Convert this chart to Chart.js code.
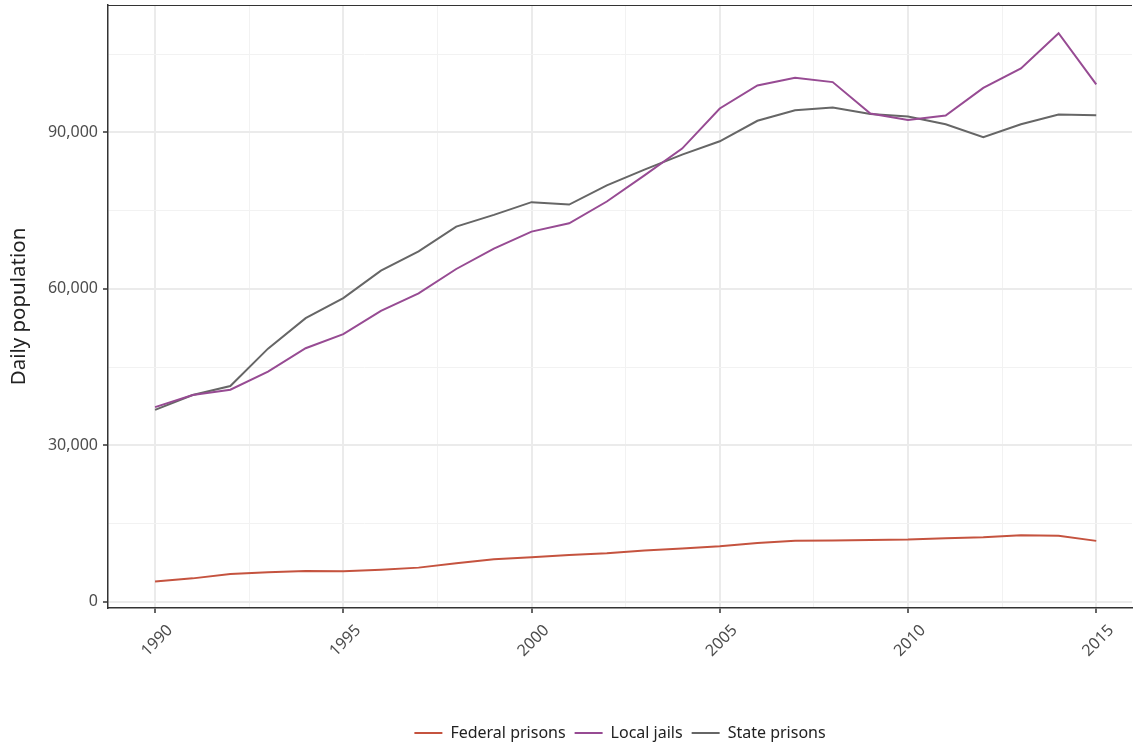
<!DOCTYPE html>
<html>
<head>
<meta charset="utf-8">
<script src="https://cdn.jsdelivr.net/npm/chart.js@4"></script>
<style>
	html, body { margin: 0; padding: 0; background: #fff; }
	#wrap { width: 1133px; height: 744px; }
</style>
</head>
<body>
<div id="wrap"><canvas id="chart"></canvas></div>
<script>
const years = [
	1990, 1991, 1992, 1993, 1994, 1995, 1996, 1997, 1998, 1999, 2000, 2001, 2002,
	2003, 2004, 2005, 2006, 2007, 2008, 2009, 2010, 2011, 2012, 2013, 2014, 2015,
];

const federalPrisons = [
	3_900, 4_480, 5_320, 5_640, 5_900, 5_850, 6_150, 6_540, 7_370, 8_140, 8_520,
	8_970, 9_290, 9_810, 10_190, 10_640, 11_280, 11_670, 11_730, 11_860, 11_920,
	12_180, 12_370, 12_760, 12_630, 11_670,
];

const localJails = [
	37_310, 39_620, 40_640, 44_100, 48_600, 51_290, 55_770, 59_100, 63_790,
	67_690, 70_960, 72_560, 76_730, 81_730, 86_870, 94_560, 98_980, 100_440,
	99_620, 93_600, 92_370, 93_210, 98_520, 102_250, 108_980, 99_170,
];

const statePrisons = [
	36_790, 39_620, 41_350, 48_520, 54_370, 58_210, 63_460, 67_170, 71_920,
	74_170, 76_600, 76_150, 79_810, 82_830, 85_710, 88_270, 92_210, 94_230,
	94_750, 93_520, 93_020, 91_540, 89_040, 91_540, 93_400, 93_270,
];

const xTicks = [1990, 1992.5, 1995, 1997.5, 2000, 2002.5, 2005, 2007.5, 2010, 2012.5, 2015];
const yTicks = [0, 15_000, 30_000, 45_000, 60_000, 75_000, 90_000, 105_000];

const FONT = "'Noto Sans', 'Open Sans', sans-serif";

const toPoints = (values) => years.map((year, i) => ({ x: year, y: values[i] }));

const isMajorX = (v) => v % 5 === 0;
const isMajorY = (v) => v % 30_000 === 0;

// top edge of the panel
const panelTop = {
	id: 'panelTop',
	afterDraw(chart) {
		const { ctx, chartArea } = chart;
		ctx.save();
		ctx.strokeStyle = '#333333';
		ctx.lineWidth = 1;
		ctx.beginPath();
		ctx.moveTo(chartArea.left, chartArea.top + 0.5);
		ctx.lineTo(chartArea.right, chartArea.top + 0.5);
		ctx.stroke();
		ctx.restore();
	},
};

new Chart(document.getElementById('chart'), {
	type: 'line',
	data: {
		datasets: [
			{
				label: 'Federal prisons',
				data: toPoints(federalPrisons),
				borderColor: '#c5533f',
				backgroundColor: '#c5533f',
			},
			{
				label: 'Local jails',
				data: toPoints(localJails),
				borderColor: '#974b93',
				backgroundColor: '#974b93',
			},
			{
				label: 'State prisons',
				data: toPoints(statePrisons),
				borderColor: '#666666',
				backgroundColor: '#666666',
			},
		],
	},
	options: {
		responsive: true,
		maintainAspectRatio: false,
		animation: false,
		layout: {
			padding: { top: 5, right: 1, left: 0, bottom: -7 },
		},
		elements: {
			point: { radius: 0 },
			line: { borderWidth: 2, tension: 0 },
		},
		plugins: {
			tooltip: { enabled: false },
			legend: {
				position: 'bottom',
				fullSize: false,
				labels: {
					font: { family: FONT, size: 16 },
					color: '#222222',
					boxWidth: 28,
					boxHeight: 2,
					padding: 9,
					generateLabels(chart) {
						const items = Chart.defaults.plugins.legend.labels.generateLabels(chart);
						items.forEach((item) => { item.lineWidth = 0; });
						return items;
					},
				},
			},
		},
		scales: {
			x: {
				type: 'linear',
				min: 1988.75,
				max: 2015.95,
				afterBuildTicks(scale) {
					scale.ticks = xTicks.map((v) => ({ value: v }));
				},
				afterFit(scale) {
					scale.height = 108;
				},
				ticks: {
					autoSkip: false,
					minRotation: 45,
					maxRotation: 45,
					labelOffset: 15,
					padding: 8,
					color: '#4d4d4d',
					font: { family: FONT, size: 16 },
					callback: (v) => (isMajorX(v) ? String(v) : ''),
				},
				grid: {
					color: (ctx) => (ctx.tick && isMajorX(ctx.tick.value) ? '#ebebeb' : '#f2f2f2'),
					lineWidth: (ctx) => (ctx.tick && isMajorX(ctx.tick.value) ? 2 : 1),
					tickColor: (ctx) => (ctx.tick && isMajorX(ctx.tick.value) ? '#333333' : 'rgba(0,0,0,0)'),
					tickLength: 5,
					tickWidth: 1.5,
				},
				border: { color: '#333333', width: 1.5 },
			},
			y: {
				min: -1_200,
				max: 114_400,
				afterBuildTicks(scale) {
					scale.ticks = yTicks.map((v) => ({ value: v }));
				},
				afterFit(scale) {
					scale.width = 108;
					scale.paddingTop = 0;
					scale.paddingBottom = 0;
				},
				title: {
					display: true,
					text: 'Daily population',
					color: '#222222',
					font: { family: FONT, size: 20.5 },
					padding: { top: 7, bottom: 0 },
				},
				ticks: {
					padding: 5,
					color: '#4d4d4d',
					font: { family: FONT, size: 16 },
					callback: (v) => (isMajorY(v) ? v.toLocaleString('en-US') : ''),
				},
				grid: {
					color: (ctx) => (ctx.tick && isMajorY(ctx.tick.value) ? '#ebebeb' : '#f2f2f2'),
					lineWidth: (ctx) => (ctx.tick && isMajorY(ctx.tick.value) ? 2 : 1),
					tickColor: (ctx) => (ctx.tick && isMajorY(ctx.tick.value) ? '#333333' : 'rgba(0,0,0,0)'),
					tickLength: 5,
					tickWidth: 1.5,
				},
				border: { color: '#333333', width: 1.5 },
			},
		},
	},
	plugins: [panelTop],
});
</script>
</body>
</html>
